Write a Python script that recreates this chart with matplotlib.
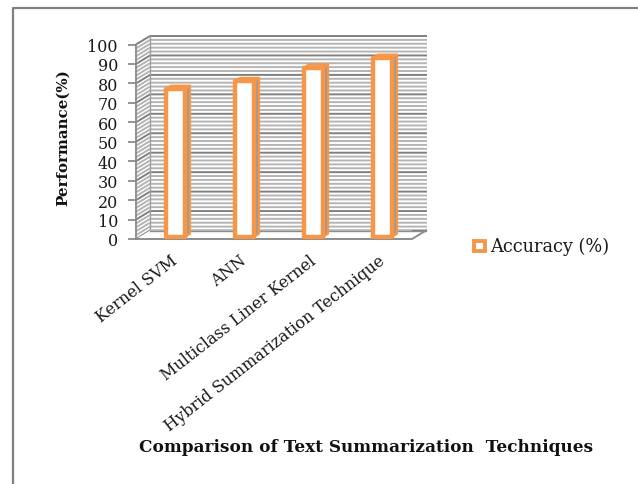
import matplotlib
matplotlib.use("Agg")
import matplotlib.pyplot as plt
from matplotlib.patches import Polygon, Rectangle
from matplotlib.transforms import ScaledTranslation

categories = ["Kernel SVM", "ANN", "Multiclass Liner Kernel", "Hybrid Summarization Technique"]
accuracy = [77, 81, 88, 93]
y_ticks = [0, 10, 20, 30, 40, 50, 60, 70, 80, 90, 100]
minor_ticks = [v for v in range(0, 101, 2)]
series_name = "Accuracy (%)"
x_title = "Comparison of Text Summarization  Techniques"
y_title = "Performance(%)"

W, H = 638, 485
ORANGE = "#F79646"
plt.rcParams["font.family"] = ["DejaVu Serif"]
fig = plt.figure(figsize=(W / 100, H / 100), dpi=100)

L, R, B, T = 136, 412, 240, 45.5
ax = fig.add_axes([L / W, 1 - B / H, (R - L) / W, (B - T) / H])
ax.set_xlim(0, 4)
ax.set_ylim(0, 100)
ax.patch.set_visible(False)
for s in ax.spines.values():
    s.set_visible(False)

ux = 4 / (R - L)      # data units per pixel
uy = 100 / (B - T)
dx, dy = 14 * ux, 8.5 * uy

# gridlines on the side and back walls
for v in minor_ticks:
    if v % 10:
        ax.plot([0, dx, 4 + dx], [v, v + dy, v + dy], color="#b4b4b4", lw=1.4, clip_on=False, zorder=1)
for v in y_ticks:
    ax.plot([0, dx, 4 + dx], [v, v + dy, v + dy], color="#808080", lw=1.4, clip_on=False, zorder=2)

# wall edges and floor
ax.plot([dx, dx], [dy, 100 + dy], color="#a0a0a0", lw=1.0, clip_on=False, zorder=2)
ax.plot([0, 0], [0, 100], color="#8c8c8c", lw=1.3, clip_on=False, zorder=3)
ax.add_patch(Polygon([(0, 0), (4, 0), (4 + dx, dy), (dx, dy)], closed=True, fc="white", ec="none", zorder=2.5))
ax.plot([0, 4, 4 + dx], [0, 0, dy], color="#8c8c8c", lw=1.4, clip_on=False, zorder=3)
ax.plot([dx, 4 + dx], [dy, dy], color="#8c8c8c", lw=1.0, clip_on=False, zorder=2.6)

# 3-D bars
bw = 19 * ux
bx, by = 5 * ux, 3.5 * uy
for i, v in enumerate(accuracy):
    xc = i + 0.5 + 5 * ux
    xl, xr = xc - bw / 2, xc + bw / 2
    base = 1.0
    side = Polygon([(xr, base), (xr + bx, base + by), (xr + bx, v + by), (xr, v)], closed=True,
                   fc="#9a9a9a", ec=ORANGE, lw=1.6, zorder=4, joinstyle="round")
    top = Polygon([(xl, v), (xl + bx, v + by), (xr + bx, v + by), (xr, v)], closed=True,
                  fc="#b5b5b5", ec=ORANGE, lw=1.6, zorder=4, joinstyle="round")
    front = Rectangle((xl, base), bw, v - base, fc="white", ec=ORANGE, lw=3.2, zorder=5, joinstyle="round")
    ax.add_patch(side)
    ax.add_patch(top)
    ax.add_patch(front)

ax.set_yticks(y_ticks)
ax.set_yticklabels([str(t) for t in y_ticks], fontsize=11.5, color="#1a1a1a")
ax.tick_params(axis="y", length=6, width=1.3, color="#8c8c8c", pad=7)
ax.set_xticks([i + 0.5 + 5 * ux for i in range(4)])
ax.set_xticklabels(categories, rotation=38, ha="right", va="top", rotation_mode="anchor",
                   fontsize=11.5, color="#1a1a1a")
ax.tick_params(axis="x", length=0, pad=9)
shift = ScaledTranslation(-5 / 100, 0, fig.dpi_scale_trans)
for lab in ax.get_xticklabels():
    lab.set_transform(lab.get_transform() + shift)

fig.text(63 / W, 1 - 138 / H, y_title, rotation=90, ha="center", va="center",
         fontsize=10.8, fontweight="bold", color="#111111")
fig.text(366 / W, 1 - 448 / H, x_title, ha="center", va="center",
         fontsize=12.2, fontweight="bold", color="#111111")

# legend key and label
fig.add_artist(Rectangle((474 / W, 1 - 252 / H), 11 / W, 10 / H, transform=fig.transFigure,
                         fc="white", ec=ORANGE, lw=2.8))
fig.text(490 / W, 1 - 246.5 / H, series_name, ha="left", va="center", fontsize=12.8, color="#1a1a1a")

# outer frame
fig.add_artist(plt.Line2D([12.5 / W, 12.5 / W, 1], [0, 1 - 8.5 / H, 1 - 8.5 / H],
                          transform=fig.transFigure, color="#808080", lw=1.6))

fig.savefig("out.png", dpi=100)
